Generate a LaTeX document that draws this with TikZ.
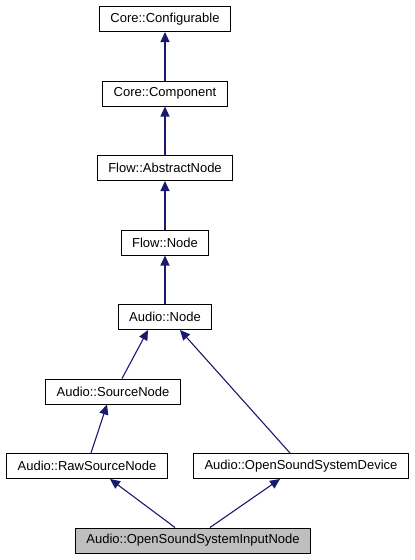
\documentclass[tikz,border=0pt]{standalone}
\usepackage{fontspec}
\setmainfont{Liberation Sans}
\usetikzlibrary{arrows.meta}
\definecolor{edgeblue}{HTML}{191970}
\definecolor{curgray}{HTML}{BFBFBF}
\begin{document}
\begin{tikzpicture}[x=1pt,y=-1pt,
  cls/.style={draw=black,line width=1pt,fill=white,inner xsep=11pt,inner ysep=0pt,
    minimum height=25pt,font=\fontsize{13}{15}\selectfont},
  cur/.style={cls,fill=curgray},
  inh/.style={draw=edgeblue,line width=1.1pt,-{Triangle[length=10pt,width=9pt]}}]
\useasboundingbox (0,0) rectangle (415,560);
\node[cls] (conf) at (165,19) {Core::Configurable};
\node[cls] (comp) at (165,93.5) {Core::Component};
\node[cls] (abs) at (165,168) {Flow::AbstractNode};
\node[cls] (flow) at (165,242.5) {Flow::Node};
\node[cls] (anode) at (165,317) {Audio::Node};
\node[cls] (src) at (113,391.5) {Audio::SourceNode};
\node[cls] (raw) at (87,466) {Audio::RawSourceNode};
\node[cls] (dev) at (301,466) {Audio::OpenSoundSystemDevice};
\node[cur] (inp) at (193,540.5) {Audio::OpenSoundSystemInputNode};
\draw[inh] (comp.north) -- (conf.south);
\draw[inh] (abs.north) -- (comp.south);
\draw[inh] (flow.north) -- (abs.south);
\draw[inh] (anode.north) -- (flow.south);
\draw[inh] ([xshift=9pt]src.north) -- ([xshift=-17pt]anode.south);
\draw[inh] ([xshift=-11pt]dev.north) -- ([xshift=15pt]anode.south);
\draw[inh] ([xshift=4pt]raw.north) -- ([xshift=-6pt]src.south);
\draw[inh] ([xshift=-18pt]inp.north) -- ([xshift=23pt]raw.south);
\draw[inh] ([xshift=17pt]inp.north) -- ([xshift=-21pt]dev.south);
\end{tikzpicture}
\end{document}
